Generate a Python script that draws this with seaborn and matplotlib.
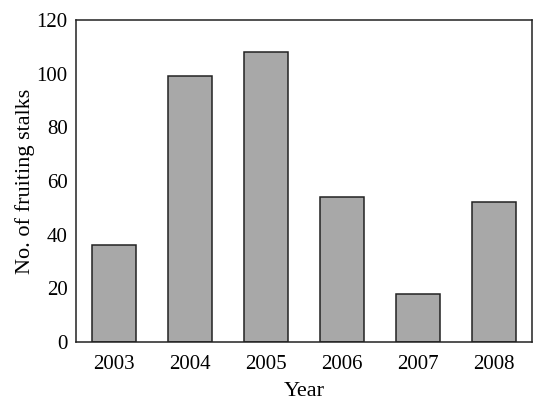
import matplotlib
matplotlib.use("Agg")
import matplotlib.pyplot as plt
import seaborn as sns
import pandas as pd

years = ["2003", "2004", "2005", "2006", "2007", "2008"]
stalks = [36, 99, 108, 54, 18, 52]

sns.set_style("white")
plt.rcParams['font.family'] = ['Liberation Serif', 'DejaVu Serif']
plt.rcParams['text.color'] = 'black'
plt.rcParams['axes.labelcolor'] = 'black'
plt.rcParams['xtick.color'] = 'black'
plt.rcParams['ytick.color'] = 'black'

df = pd.DataFrame({'Year': years, 'Stalks': stalks})

fig = plt.figure(figsize=(5.5, 4.11), dpi=100)
ax = fig.add_axes([76 / 550, 1 - 342 / 411, 456 / 550, 322 / 411])
sns.barplot(data=df, x='Year', y='Stalks', color='#a8a8a8', saturation=1,
            width=0.58, edgecolor='#222222', linewidth=1.1, ax=ax)

ax.set_xlim(-0.5, 5.5)
ax.set_ylim(0, 120)
ax.set_yticks(range(0, 121, 20))
ax.tick_params(axis='both', length=0, labelsize=15)
ax.tick_params(axis='x', pad=9)
ax.tick_params(axis='y', pad=6)
ax.set_xlabel('Year', fontsize=16, labelpad=6)
ax.set_ylabel('No. of fruiting stalks', fontsize=16, labelpad=1)
for s in ax.spines.values():
    s.set_visible(True)
    s.set_color('#222222')
    s.set_linewidth(1.1)

fig.savefig('out.png', dpi=100)
